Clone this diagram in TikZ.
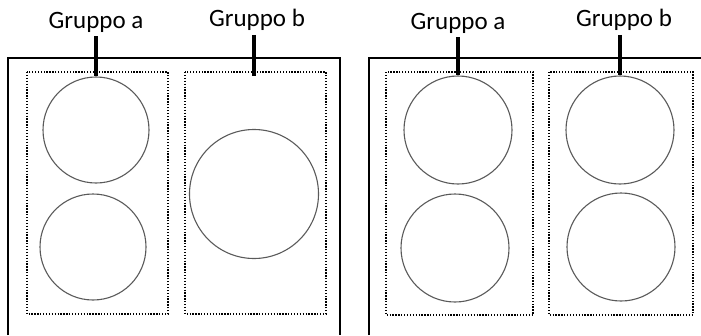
\documentclass[tikz,border=0pt]{standalone}
\usepackage{fontspec}
\setmainfont{Carlito}
\usetikzlibrary{positioning}
\definecolor{RingGray}{HTML}{5A5A5A}

\begin{document}
\begin{tikzpicture}[x=1pt,y=-1pt,
    label/.style={font=\fontsize{25}{28}\selectfont,inner sep=0pt},
    ring/.style={circle,draw=RingGray,line width=1.1pt,inner sep=0pt},
    group/.style={draw,line width=1.3pt,dash pattern=on 1.3pt off 1.6pt},
    frame/.style={draw,line width=1.3pt},
    lead/.style={line width=3.2pt}
  ]
    \useasboundingbox (0,0) rectangle (701,335);
    % left panel: a = two small, b = one large
    \draw[frame] (8,335) |- (340,58) -- (340,335);
    \draw[group] (27,72) rectangle (168,314);
    \draw[group] (185,72) rectangle (326,314);
    \node[ring,minimum size=106pt] (la1) at (96,130) {};
    \node[ring,minimum size=106pt] (la2) at (93,247) {};
    \node[ring,minimum size=129pt] (lb1) at (254,194) {};
    \node[label] (lta) at (96,22) {Gruppo a};
    \node[label] (ltb) at (257,20) {Gruppo b};
    \coordinate (lbtop) at (254,76);
    \draw[lead] (lta.south -| la1.north) ++(0,4) -- (la1.north);
    \draw[lead] (ltb.south -| lbtop) ++(0,4) -- (lbtop);
    % right panel: a and b both two small
    \draw[frame] (369,335) |- (701,58);
    \draw[group] (386,72) rectangle (533,315);
    \draw[group] (549,72) rectangle (693,315);
    \node[ring,minimum size=108pt] (ra1) at (458,130) {};
    \node[ring,minimum size=108pt] (ra2) at (455,248) {};
    \node[ring,minimum size=108pt] (rb1) at (620,130) {};
    \node[ring,minimum size=108pt] (rb2) at (621,247) {};
    \node[label] (rta) at (458,23) {Gruppo a};
    \node[label] (rtb) at (624,20) {Gruppo b};
    \draw[lead] (rta.south -| ra1.north) ++(0,4) -- (ra1.north);
    \draw[lead] (rtb.south -| rb1.north) ++(0,4) -- (rb1.north);
  \end{tikzpicture}
\end{document}
